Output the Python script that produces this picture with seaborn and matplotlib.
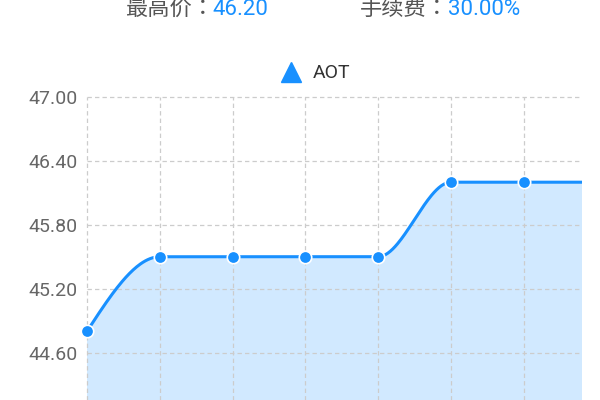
import numpy as np
import pandas as pd
import matplotlib
matplotlib.use("Agg")
import matplotlib.pyplot as plt
import seaborn as sns
from matplotlib.lines import Line2D
from matplotlib.ticker import FormatStrFormatter

# ---- data ----
positions = [0, 1, 2, 3, 4, 5, 6, 7]
values = [44.80, 45.50, 45.50, 45.50, 45.50, 46.20, 46.20, 46.20]
series_name = "AOT"
y_ticks = [44.00, 44.60, 45.20, 45.80, 46.40, 47.00]
header_labels = ["最高价：", "手续费："]
header_values = ["46.20", "30.00%"]

BLUE = "#1890ff"
FILL = "#d1e9ff"

sns.set_theme(style="white")
plt.rcParams["font.family"] = ["Roboto", "Noto Sans CJK TC", "DejaVu Sans"]

df = pd.DataFrame({"x": positions, "value": values})


def pchip(x, y, n_per=60):
    x = np.asarray(x, float)
    y = np.asarray(y, float)
    h = np.diff(x)
    d = np.diff(y) / h
    n = len(x)
    m = np.zeros(n)
    for k in range(1, n - 1):
        if d[k - 1] * d[k] > 0:
            w1 = 2 * h[k] + h[k - 1]
            w2 = h[k] + 2 * h[k - 1]
            m[k] = (w1 + w2) / (w1 / d[k - 1] + w2 / d[k])
        else:
            m[k] = 0.0

    def end(h0, h1, d0, d1):
        mm = ((2 * h0 + h1) * d0 - h0 * d1) / (h0 + h1)
        if np.sign(mm) != np.sign(d0):
            mm = 0.0
        elif np.sign(d0) != np.sign(d1) and abs(mm) > abs(3 * d0):
            mm = 3 * d0
        return mm

    m[0] = end(h[0], h[1], d[0], d[1])
    m[-1] = end(h[-1], h[-2], d[-1], d[-2])
    xs, ys = [], []
    for k in range(n - 1):
        t = np.linspace(0, 1, n_per, endpoint=(k == n - 2))
        h00 = 2 * t**3 - 3 * t**2 + 1
        h10 = t**3 - 2 * t**2 + t
        h01 = -2 * t**3 + 3 * t**2
        h11 = t**3 - t**2
        xs.append(x[k] + t * h[k])
        ys.append(h00 * y[k] + h10 * h[k] * m[k] + h01 * y[k + 1] + h11 * h[k] * m[k + 1])
    return np.concatenate(xs), np.concatenate(ys)


xs, ys = pchip(df["x"], df["value"])
XMAX = 6.8

fig = plt.figure(figsize=(6, 4), dpi=100)
ax = fig.add_axes([87 / 600, 0, 495 / 600, 303 / 400])

ax.fill_between(xs, ys, 40, color=FILL, lw=0, zorder=0.3)
sns.lineplot(x=xs, y=ys, ax=ax, color=BLUE, linewidth=2.2, estimator=None,
             sort=False, zorder=3)
vis = df[df["x"] <= XMAX]
sns.scatterplot(data=vis, x="x", y="value", ax=ax, s=80, color=BLUE,
                edgecolor="white", linewidth=1.2, zorder=4, clip_on=False)

ax.set_xticks(positions[:7])
ax.set_yticks(y_ticks)
ax.set_xlim(0, XMAX)
ax.set_ylim(44.155, 47.0)
ax.yaxis.set_major_formatter(FormatStrFormatter("%.2f"))
ax.tick_params(axis="y", length=0, pad=6.5, labelsize=14, labelcolor="#666666")
ax.tick_params(axis="x", length=0, labelbottom=False)
ax.set_axisbelow(True)
ax.grid(True, color="#cccccc", linestyle=(0, (3.5, 2.5)), linewidth=0.9)
for gl in ax.get_xgridlines() + ax.get_ygridlines():
    gl.set_clip_on(False)
for s in ax.spines.values():
    s.set_visible(False)
ax.set_xlabel("")
ax.set_ylabel("")

handle = Line2D([], [], marker="^", color=BLUE, linestyle="None", markersize=15)
leg = fig.legend(handles=[handle], labels=[series_name], loc="center left",
                 bbox_to_anchor=(281 / 600, 1 - 73.5 / 400), frameon=False,
                 fontsize=14, handlelength=1.0, handletextpad=0.65,
                 borderpad=0, borderaxespad=0)
for t in leg.get_texts():
    t.set_color("#333333")

base_y = 1 - 15 / 400
fig.text(125 / 600, base_y, header_labels[0], color="#555555", fontsize=16, va="baseline")
fig.text(212 / 600, base_y, header_values[0], color=BLUE, fontsize=16, va="baseline")
fig.text(360 / 600, base_y, header_labels[1], color="#555555", fontsize=16, va="baseline")
fig.text(448 / 600, base_y, header_values[1], color=BLUE, fontsize=16, va="baseline")

fig.savefig("out.png", dpi=100)
